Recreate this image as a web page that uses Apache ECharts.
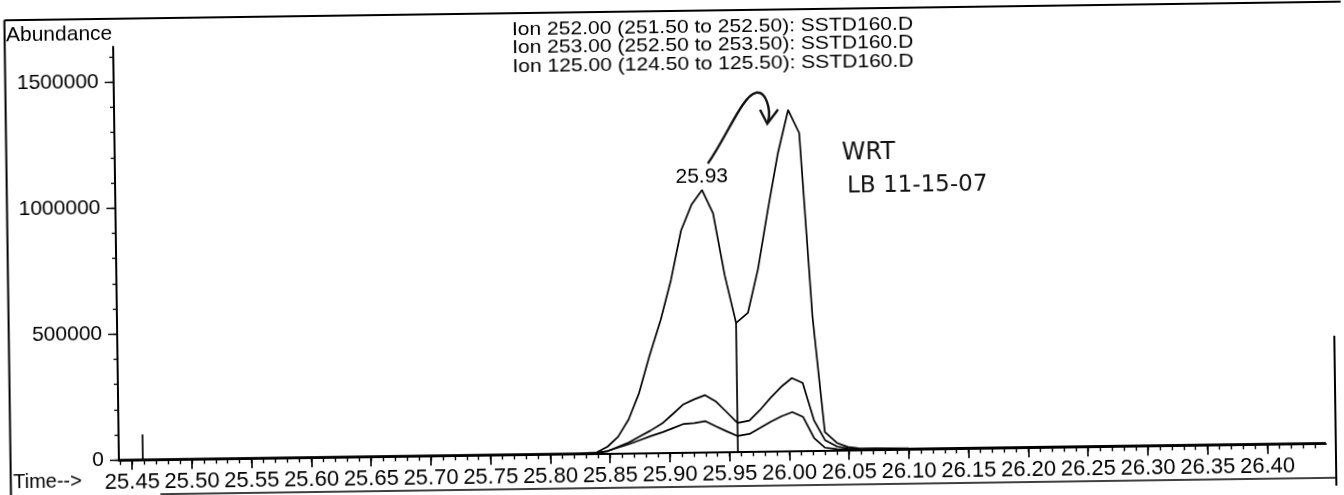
<!DOCTYPE html>
<html><head><meta charset="utf-8">
<script src="https://cdn.jsdelivr.net/npm/echarts@6/dist/echarts.min.js"></script>
<style>
html,body{margin:0;padding:0;background:#fff;overflow:hidden;}
#chart{width:1344px;height:495px;transform:rotate(-0.8deg);transform-origin:672px 247.5px;}
</style></head><body><div id="chart"></div>
<script>
// ---- data ----
const times = [25.440, 25.821, 25.830, 25.839, 25.848, 25.857, 25.866, 25.875, 25.884, 25.894,
  25.903, 25.912, 25.921, 25.930, 25.939, 25.948, 25.957, 25.967, 25.976, 25.985,
  25.994, 26.003, 26.012, 26.021, 26.030, 26.040, 26.049, 26.058, 26.100, 26.449];
const ion252 = [0, 0, 2000, 4000, 26000, 65000, 133000, 237000, 382000, 527000,
  684000, 879000, 981000, 1039000, 946000, 700000, 509500, 549000, 724000, 960000,
  1182000, 1352000, 1260000, 530000, 72000, 28000, 11500, 6000, 3000, 0];
const ion253 = [0, 0, 0, 2000, 8000, 25000, 42000, 65000, 87000, 115000,
  152000, 190000, 209000, 225000, 200000, 157000, 113000, 122000, 163000, 211000,
  254000, 288000, 268000, 120000, 40000, 14000, 6000, 3000, 0, 0];
const ion125 = [0, 0, 0, 2000, 9000, 22000, 35000, 50000, 65000, 80000,
  96000, 112000, 115000, 122000, 100000, 80000, 61000, 69000, 92000, 116000,
  137000, 153000, 133000, 48000, 10000, 4000, 2000, 1000, 0, 0];
const titleLines = [
  'Ion 252.00 (251.50 to 252.50): SSTD160.D',
  'Ion 253.00 (252.50 to 253.50): SSTD160.D',
  'Ion 125.00 (124.50 to 125.50): SSTD160.D'
];
const xTickLabels = [25.45, 25.50, 25.55, 25.60, 25.65, 25.70, 25.75, 25.80, 25.85, 25.90,
  25.95, 26.00, 26.05, 26.10, 26.15, 26.20, 26.25, 26.30, 26.35, 26.40];
const xMajorTicks = xTickLabels.concat([26.45]);
const yTickLabels = [0, 500000, 1000000, 1500000];
const apexTime = 25.930, apexValue = 1039000, apexText = '25.93';
const splitTime = 25.957, splitValue = 509500;
const markerTime = 25.459, markerValue = 100000;
const handNotes = ['WRT', 'LB 11-15-07'];

const xMin = 25.439, xMax = 26.449, yMax = 1640000;
const xMinor = []; for (let i = 0; i <= 100; i++) xMinor.push(+(25.44 + i * 0.01).toFixed(2));
const yMinor = []; for (let i = 0; i <= 16; i++) yMinor.push(i * 100000);

const FONT = '"Liberation Sans", Arial, sans-serif';
const black = '#000';
const pairs = arr => times.map((t, i) => [t, arr[i]]);
const lineSeries = (name, arr) => ({
  type: 'line', name, data: pairs(arr), showSymbol: false, symbol: 'none',
  lineStyle: { color: black, width: 1.7 }, silent: true, z: 3
});

const chart = echarts.init(document.getElementById('chart'), null, { renderer: 'canvas' });
const s252 = lineSeries('Ion 252', ion252);
s252.markPoint = {
  symbol: 'circle', symbolSize: 0, silent: true, animation: false,
  data: [{ coord: [apexTime, apexValue], label: { show: true, position: 'top', distance: 3,
    formatter: apexText, fontSize: 21, color: black, fontFamily: FONT } }]
};
chart.setOption({
  animation: false,
  backgroundColor: '#fff',
  textStyle: { fontFamily: FONT },
  grid: { left: 116, right: 21, top: 39, bottom: 42.7, containLabel: false, outerBoundsMode: 'none' },
  xAxis: [
    { type: 'value', min: xMin, max: xMax, position: 'bottom',
      axisLine: { show: true, onZero: false, lineStyle: { color: black, width: 2 } },
      axisTick: { show: true, length: 10, customValues: xMajorTicks, lineStyle: { color: black, width: 1.6 } },
      axisLabel: { customValues: xTickLabels, formatter: v => v.toFixed(2), margin: 12,
        fontSize: 22, color: black, fontFamily: FONT },
      splitLine: { show: false } },
    { type: 'value', min: xMin, max: xMax, position: 'bottom',
      axisLine: { show: false },
      axisTick: { show: true, length: 5, customValues: xMinor, lineStyle: { color: black, width: 1.4 } },
      axisLabel: { show: false }, splitLine: { show: false } }
  ],
  yAxis: [
    { type: 'value', min: 0, max: yMax, position: 'left',
      axisLine: { show: true, lineStyle: { color: black, width: 2 } },
      axisTick: { show: true, length: 9, customValues: yTickLabels, lineStyle: { color: black, width: 1.4 } },
      axisLabel: { customValues: yTickLabels, formatter: v => String(v), margin: 15,
        fontSize: 21, color: black, fontFamily: FONT },
      splitLine: { show: false } },
    { type: 'value', min: 0, max: yMax, position: 'left',
      axisLine: { show: false },
      axisTick: { show: true, length: 4, customValues: yMinor, lineStyle: { color: black, width: 1.3 } },
      axisLabel: { show: false }, splitLine: { show: false } }
  ],
  series: [
    s252,
    lineSeries('Ion 253', ion253),
    lineSeries('Ion 125', ion125),
    { type: 'line', data: [[splitTime, 0], [splitTime, splitValue]], showSymbol: false, symbol: 'none',
      lineStyle: { color: black, width: 1.7 }, silent: true },
    { type: 'line', data: [[markerTime, 0], [markerTime, markerValue]], showSymbol: false, symbol: 'none',
      lineStyle: { color: black, width: 1.7 }, silent: true }
  ],
  graphic: [
    { type: 'text', x: 515, y: 18.2, scaleX: 1.107, silent: true,
      style: { text: titleLines.join('\n'), fontSize: 19, lineHeight: 18.5, fontFamily: FONT, fill: black,
        align: 'left', verticalAlign: 'top' } },
    { type: 'text', left: 9, top: 15.4, silent: true,
      style: { text: 'Abundance', fontSize: 21, fontFamily: FONT, fill: black } },
    { type: 'text', left: 10, top: 463, silent: true,
      style: { text: 'Time-->', fontSize: 20, fontFamily: FONT, fill: black } },
    { type: 'text', left: 843, top: 144, silent: true,
      style: { text: handNotes[0], fontSize: 24, fontFamily: '"DejaVu Sans", sans-serif', fill: '#111' } },
    { type: 'text', left: 848, top: 178, silent: true,
      style: { text: handNotes[1], fontSize: 23, fontFamily: '"DejaVu Sans", sans-serif', fill: '#111' } },
    { type: 'bezierCurve', silent: true,
      shape: { x1: 709, y1: 164, cpx1: 728, cpy1: 138, cpx2: 745, cpy2: 96, x2: 758, y2: 94 },
      style: { stroke: '#111', lineWidth: 2.4, fill: null } },
    { type: 'bezierCurve', silent: true,
      shape: { x1: 758, y1: 94, cpx1: 768, cpy1: 92, cpx2: 773, cpy2: 110, x2: 770, y2: 123 },
      style: { stroke: '#111', lineWidth: 2.4, fill: null } },
    { type: 'polyline', silent: true,
      shape: { points: [[762, 111], [769, 125], [780, 111]] },
      style: { stroke: '#111', lineWidth: 2.4, fill: null } },
    // page frame lines
    { type: 'line', silent: true, shape: { x1: 7.6, y1: 11, x2: 1344, y2: 11 }, style: { stroke: black, lineWidth: 2 } },
    { type: 'line', silent: true, shape: { x1: 7.6, y1: 11, x2: 7.6, y2: 495 }, style: { stroke: black, lineWidth: 2 } },
    { type: 'line', silent: true, shape: { x1: 1333, y1: 345, x2: 1333, y2: 500 }, style: { stroke: black, lineWidth: 2 } },
    { type: 'line', silent: true, shape: { x1: 157, y1: 487, x2: 1333, y2: 487 }, style: { stroke: black, lineWidth: 1.6 } }
  ]
});
</script></body></html>
